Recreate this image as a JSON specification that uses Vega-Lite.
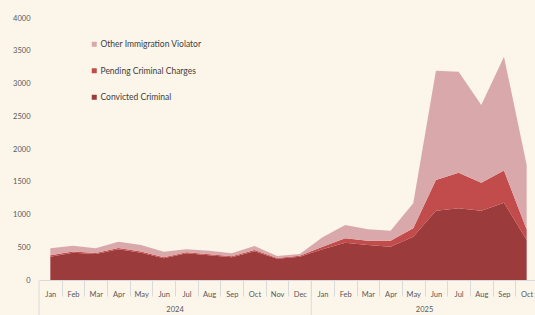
{
  "$schema": "https://vega.github.io/schema/vega-lite/v6.json",
  "width": 496,
  "height": 262,
  "autosize": {"type": "none"},
  "padding": {"left": 39, "top": 18, "right": 0, "bottom": 35},
  "background": "#FCF5EA",
  "config": {
    "view": {"stroke": null},
    "font": "Lato"
  },
  "resolve": {"scale": {"y": "independent"}, "axis": {"y": "independent"}},
  "layer": [
    {
      "data": {"values": [
        {"month": "2024-01", "type": "Convicted Criminal", "rank": 1, "count": 356},
        {"month": "2024-01", "type": "Pending Criminal Charges", "rank": 2, "count": 20},
        {"month": "2024-01", "type": "Other Immigration Violator", "rank": 3, "count": 108},
        {"month": "2024-02", "type": "Convicted Criminal", "rank": 1, "count": 417},
        {"month": "2024-02", "type": "Pending Criminal Charges", "rank": 2, "count": 20},
        {"month": "2024-02", "type": "Other Immigration Violator", "rank": 3, "count": 87},
        {"month": "2024-03", "type": "Convicted Criminal", "rank": 1, "count": 397},
        {"month": "2024-03", "type": "Pending Criminal Charges", "rank": 2, "count": 15},
        {"month": "2024-03", "type": "Other Immigration Violator", "rank": 3, "count": 72},
        {"month": "2024-04", "type": "Convicted Criminal", "rank": 1, "count": 468},
        {"month": "2024-04", "type": "Pending Criminal Charges", "rank": 2, "count": 20},
        {"month": "2024-04", "type": "Other Immigration Violator", "rank": 3, "count": 97},
        {"month": "2024-05", "type": "Convicted Criminal", "rank": 1, "count": 417},
        {"month": "2024-05", "type": "Pending Criminal Charges", "rank": 2, "count": 20},
        {"month": "2024-05", "type": "Other Immigration Violator", "rank": 3, "count": 97},
        {"month": "2024-06", "type": "Convicted Criminal", "rank": 1, "count": 331},
        {"month": "2024-06", "type": "Pending Criminal Charges", "rank": 2, "count": 15},
        {"month": "2024-06", "type": "Other Immigration Violator", "rank": 3, "count": 87},
        {"month": "2024-07", "type": "Convicted Criminal", "rank": 1, "count": 407},
        {"month": "2024-07", "type": "Pending Criminal Charges", "rank": 2, "count": 15},
        {"month": "2024-07", "type": "Other Immigration Violator", "rank": 3, "count": 46},
        {"month": "2024-08", "type": "Convicted Criminal", "rank": 1, "count": 377},
        {"month": "2024-08", "type": "Pending Criminal Charges", "rank": 2, "count": 15},
        {"month": "2024-08", "type": "Other Immigration Violator", "rank": 3, "count": 56},
        {"month": "2024-09", "type": "Convicted Criminal", "rank": 1, "count": 346},
        {"month": "2024-09", "type": "Pending Criminal Charges", "rank": 2, "count": 15},
        {"month": "2024-09", "type": "Other Immigration Violator", "rank": 3, "count": 46},
        {"month": "2024-10", "type": "Convicted Criminal", "rank": 1, "count": 438},
        {"month": "2024-10", "type": "Pending Criminal Charges", "rank": 2, "count": 20},
        {"month": "2024-10", "type": "Other Immigration Violator", "rank": 3, "count": 61},
        {"month": "2024-11", "type": "Convicted Criminal", "rank": 1, "count": 326},
        {"month": "2024-11", "type": "Pending Criminal Charges", "rank": 2, "count": 10},
        {"month": "2024-11", "type": "Other Immigration Violator", "rank": 3, "count": 30},
        {"month": "2024-12", "type": "Convicted Criminal", "rank": 1, "count": 356},
        {"month": "2024-12", "type": "Pending Criminal Charges", "rank": 2, "count": 15},
        {"month": "2024-12", "type": "Other Immigration Violator", "rank": 3, "count": 26},
        {"month": "2025-01", "type": "Convicted Criminal", "rank": 1, "count": 468},
        {"month": "2025-01", "type": "Pending Criminal Charges", "rank": 2, "count": 41},
        {"month": "2025-01", "type": "Other Immigration Violator", "rank": 3, "count": 143},
        {"month": "2025-02", "type": "Convicted Criminal", "rank": 1, "count": 570},
        {"month": "2025-02", "type": "Pending Criminal Charges", "rank": 2, "count": 66},
        {"month": "2025-02", "type": "Other Immigration Violator", "rank": 3, "count": 204},
        {"month": "2025-03", "type": "Convicted Criminal", "rank": 1, "count": 534},
        {"month": "2025-03", "type": "Pending Criminal Charges", "rank": 2, "count": 66},
        {"month": "2025-03", "type": "Other Immigration Violator", "rank": 3, "count": 174},
        {"month": "2025-04", "type": "Convicted Criminal", "rank": 1, "count": 509},
        {"month": "2025-04", "type": "Pending Criminal Charges", "rank": 2, "count": 91},
        {"month": "2025-04", "type": "Other Immigration Violator", "rank": 3, "count": 153},
        {"month": "2025-05", "type": "Convicted Criminal", "rank": 1, "count": 662},
        {"month": "2025-05", "type": "Pending Criminal Charges", "rank": 2, "count": 127},
        {"month": "2025-05", "type": "Other Immigration Violator", "rank": 3, "count": 382},
        {"month": "2025-06", "type": "Convicted Criminal", "rank": 1, "count": 1059},
        {"month": "2025-06", "type": "Pending Criminal Charges", "rank": 2, "count": 468},
        {"month": "2025-06", "type": "Other Immigration Violator", "rank": 3, "count": 1669},
        {"month": "2025-07", "type": "Convicted Criminal", "rank": 1, "count": 1094},
        {"month": "2025-07", "type": "Pending Criminal Charges", "rank": 2, "count": 545},
        {"month": "2025-07", "type": "Other Immigration Violator", "rank": 3, "count": 1542},
        {"month": "2025-08", "type": "Convicted Criminal", "rank": 1, "count": 1059},
        {"month": "2025-08", "type": "Pending Criminal Charges", "rank": 2, "count": 427},
        {"month": "2025-08", "type": "Other Immigration Violator", "rank": 3, "count": 1186},
        {"month": "2025-09", "type": "Convicted Criminal", "rank": 1, "count": 1181},
        {"month": "2025-09", "type": "Pending Criminal Charges", "rank": 2, "count": 489},
        {"month": "2025-09", "type": "Other Immigration Violator", "rank": 3, "count": 1740},
        {"month": "2025-10", "type": "Convicted Criminal", "rank": 1, "count": 611},
        {"month": "2025-10", "type": "Pending Criminal Charges", "rank": 2, "count": 160},
        {"month": "2025-10", "type": "Other Immigration Violator", "rank": 3, "count": 985}
      ]},
      "mark": {"type": "area"},
      "encoding": {
        "x": {
          "field": "month", "type": "ordinal",
          "scale": {"type": "point", "padding": 0.5, "range": [0, 499]},
          "axis": {
            "title": null, "orient": "bottom", "tickSize": 16, "tickColor": "#DADADA",
            "tickOffset": 11.3, "labelOffset": -11.3, "labelOverlap": false, "labelFlush": false,
            "domainColor": "#DADADA", "labelAngle": 0, "labelFontSize": 7.5,
            "labelColor": "#595959", "labelPadding": -2, "labelBaseline": "middle",
            "labelExpr": "['Jan','Feb','Mar','Apr','May','Jun','Jul','Aug','Sep','Oct','Nov','Dec'][toNumber(slice(datum.value, 5)) - 1]"
          }
        },
        "y": {
          "field": "count", "type": "quantitative", "stack": "zero",
          "scale": {"domain": [0, 4000], "nice": false},
          "axis": {
            "title": null, "values": [0, 500, 1000, 1500, 2000, 2500, 3000, 3500, 4000],
            "format": "d", "labelOverlap": false, "labelFlush": false,
            "domain": false, "ticks": false, "grid": false, "labelFontSize": 7.5,
            "labelColor": "#595959", "labelPadding": 9
          }
        },
        "color": {
          "field": "type", "type": "nominal",
          "scale": {
            "domain": ["Other Immigration Violator", "Pending Criminal Charges", "Convicted Criminal"],
            "range": ["#D9A8AA", "#C24B4C", "#9B3B3B"]
          },
          "legend": {
            "title": null, "orient": "none", "legendX": 51, "legendY": 22,
            "symbolType": "square", "symbolSize": 25, "symbolStrokeWidth": 0,
            "labelFontSize": 8.5, "labelColor": "#404040", "labelOffset": 2,
            "rowPadding": 17.5, "padding": 0
          }
        },
        "order": {"field": "rank", "type": "quantitative", "sort": "ascending"}
      }
    },
    {
      "data": {"values": [{"month": "2024-01"}, {"month": "2025-01"}]},
      "mark": {"type": "rule", "color": "#DADADA", "strokeWidth": 1, "xOffset": -11.3},
      "encoding": {
        "x": {"field": "month", "type": "ordinal"},
        "y": {"datum": -560, "type": "quantitative", "scale": {"domain": [0, 4000], "nice": false}, "axis": null},
        "y2": {"datum": 0}
      }
    },
    {
      "data": {"values": [{"month": "2024-06", "year": "2024"}, {"month": "2025-05", "year": "2025"}]},
      "mark": {"type": "text", "fontSize": 7.5, "color": "#595959", "xOffset": 11.3, "baseline": "middle"},
      "encoding": {
        "x": {"field": "month", "type": "ordinal"},
        "y": {"datum": -455, "type": "quantitative", "scale": {"domain": [0, 4000], "nice": false}, "axis": null},
        "text": {"field": "year"}
      }
    }
  ]
}
